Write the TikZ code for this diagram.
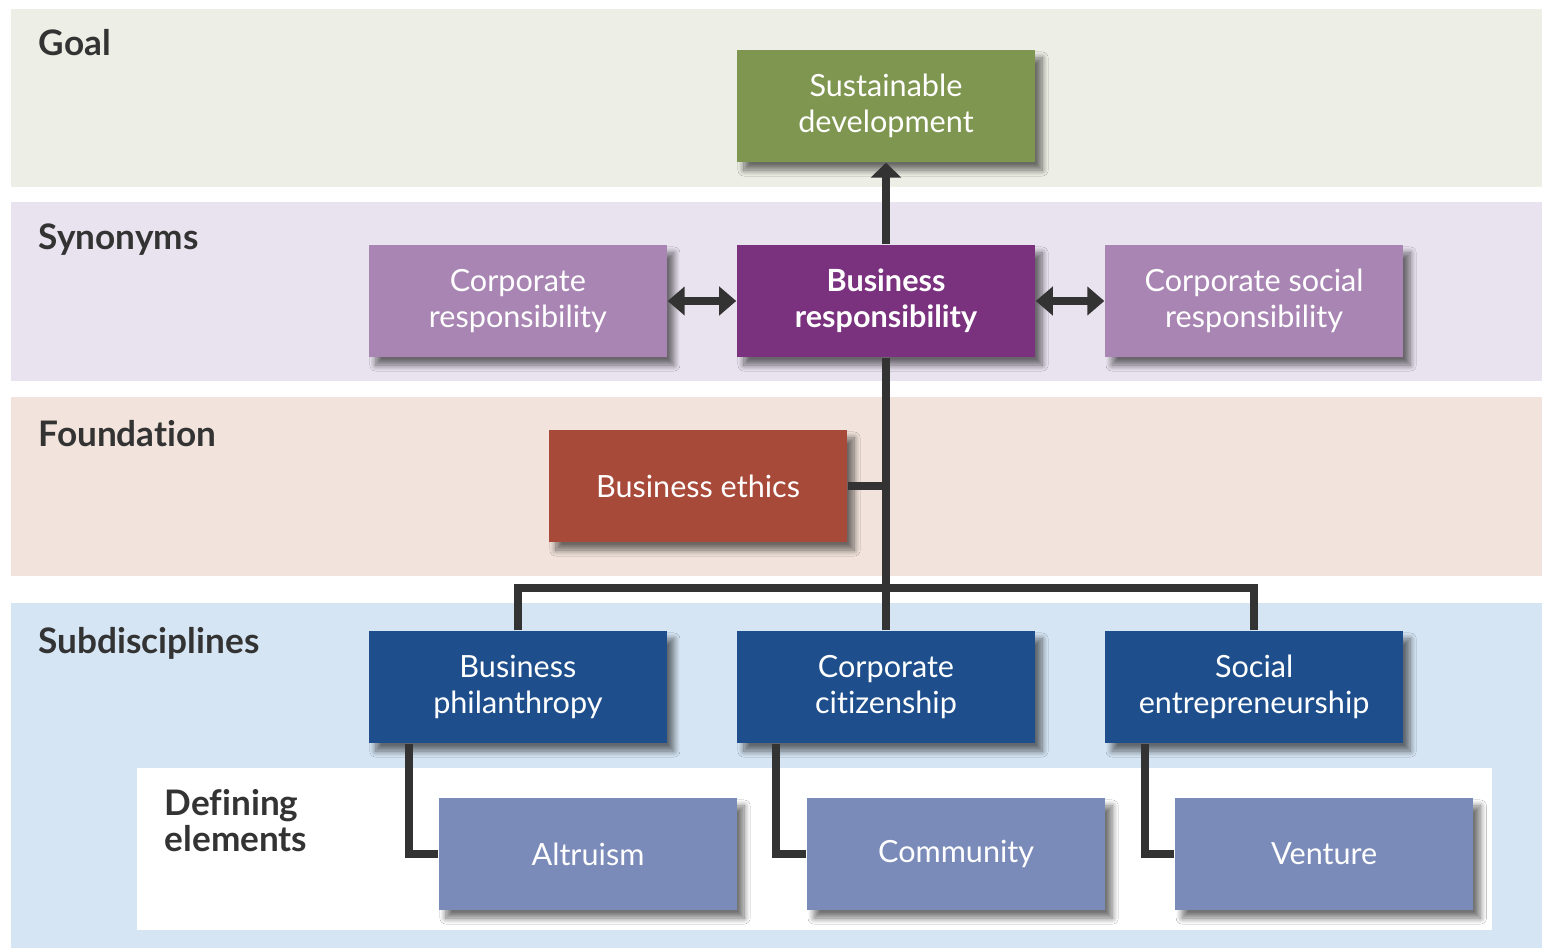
\documentclass[tikz,border=0pt]{standalone}
\usepackage{fontspec}
\setmainfont{Lato}[Ligatures={NoCommon,NoDiscretionary,NoRare}]
\usetikzlibrary{arrows.meta,positioning,shadows.blur}

\definecolor{goalbg}{HTML}{EDEEE5}
\definecolor{synbg}{HTML}{E9E2EF}
\definecolor{fndbg}{HTML}{F2E4DC}
\definecolor{subbg}{HTML}{D5E5F4}
\definecolor{linkgray}{HTML}{333333}
\definecolor{labeltext}{HTML}{333333}
\definecolor{olive}{HTML}{7F9650}
\definecolor{lilac}{HTML}{A985B3}
\definecolor{plum}{HTML}{7A317E}
\definecolor{brick}{HTML}{A84A3A}
\definecolor{navy}{HTML}{1E4F8C}
\definecolor{slate}{HTML}{7A8BB9}

\begin{document}
\begin{tikzpicture}[
    x=0.01cm, y=-0.01cm,
    node distance=0.685cm,
    box/.style={rectangle, minimum width=2.98cm, minimum height=1.12cm, align=center, text=white,
        font=\fontsize{8.7}{10.2}\selectfont,
        blur shadow={shadow xshift=0.07cm, shadow yshift=-0.08cm, shadow blur radius=0.06cm,
            shadow blur steps=10, shadow opacity=55}},
    band/.style={anchor=north west, inner sep=0pt, align=left, text=labeltext,
        font=\bfseries\fontsize{10}{10.2}\selectfont},
    link/.style={draw=linkgray, line width=0.08cm},
    arrow/.style={link, -{Triangle[width=0.3cm,length=0.15cm]}},
    biarrow/.style={link, {Triangle[width=0.28cm,length=0.17cm]}-{Triangle[width=0.28cm,length=0.17cm]}}
]
    \useasboundingbox (0,0) rectangle (1542,948);

    % bands
    \fill[goalbg] (11,9) rectangle (1542,187);
    \fill[synbg] (11,202) rectangle (1542,381);
    \fill[fndbg] (11,397) rectangle (1542,576);
    \fill[subbg] (11,603) rectangle (1542,948);
    \fill[white] (137,768) rectangle (1492,930);

    \node[band] (goal) at (38,29) {Goal};
    \node[band] (synonyms) at (38,223) {Synonyms};
    \node[band] (foundation) at (38,420) {Foundation};
    \node[band] (subdisc) at (38,627) {Subdisciplines};
    \node[band] (defining) at (164,789) {Defining\\elements};

    % boxes
    \node[box, fill=olive] (sust) at (886,106) {Sustainable\\development};
    \node[box, fill=plum, font=\bfseries\fontsize{8.7}{10.2}\selectfont] (busresp) at (886,301) {Business\\responsibility};
    \node[box, fill=lilac, left=of busresp] (corpresp) {Corporate\\responsibility};
    \node[box, fill=lilac, right=of busresp] (csr) {Corporate social\\responsibility};
    \node[box, fill=brick] (ethics) at (698,486) {Business ethics};
    \node[box, fill=navy] (corpcit) at (886,687) {Corporate\\citizenship};
    \node[box, fill=navy, left=of corpcit] (phil) {Business\\philanthropy};
    \node[box, fill=navy, right=of corpcit] (socent) {Social\\entrepreneurship};
    \node[box, fill=slate] (altru) at (588,854) {Altruism};
    \node[box, fill=slate, right=of altru] (commun) {Community};
    \node[box, fill=slate, right=of commun] (venture) {Venture};

    % connectors
    \coordinate (split) at (886,588);
    \draw[arrow] (busresp) -- (sust);
    \draw[biarrow] (corpresp) -- (busresp);
    \draw[biarrow] (busresp) -- (csr);
    \draw[link] (busresp) -- (corpcit);
    \draw[link] (ethics) -- (ethics -| busresp);
    \draw[link] (phil.north) |- (split) -| (socent.north);
    \draw[link] ([xshift=-1.09cm]phil.south) |- (altru);
    \draw[link] ([xshift=-1.1cm]corpcit.south) |- (commun);
    \draw[link] ([xshift=-1.09cm]socent.south) |- (venture);
\end{tikzpicture}
\end{document}
